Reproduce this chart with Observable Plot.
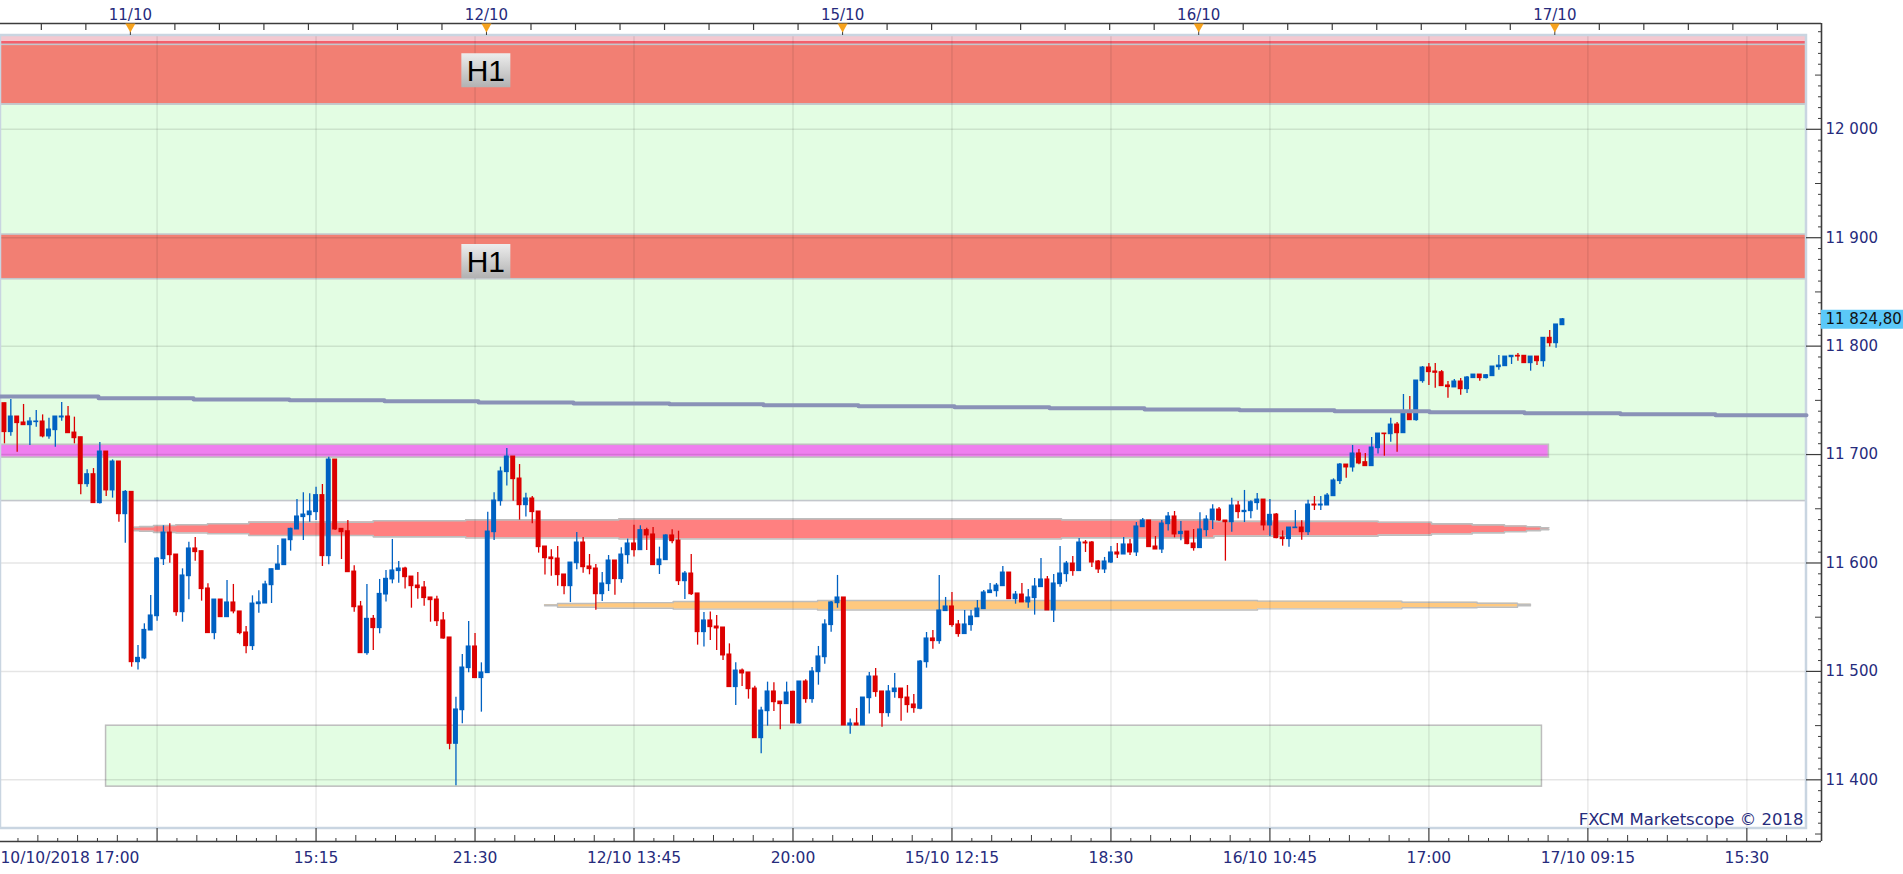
<!DOCTYPE html>
<html>
<head>
<meta charset="utf-8">
<script src="https://cdn.jsdelivr.net/npm/d3@7"></script>
<script src="https://cdn.jsdelivr.net/npm/@observablehq/plot@0.6"></script>
<style>
  html, body { margin: 0; padding: 0; background: #ffffff; overflow: hidden; }
  #chart svg { display: block; }
</style>
</head>
<body>
<div id="chart"></div>
<script>
// ---------- DATA ----------
// 15-minute candles, numbered by position on the axis (gaps closed)
const candleIndex = d3.range(1, 247);

const open = [
11747.4,11720.7,11735.1,11729.6,11727.1,11729.9,11730.5,11716.7,11722.5,11734.2,
11735.1,11720.3,11716.0,11672.7,11681.9,11655.2,11702.8,11666.9,11693.6,11645.0,
11665.6,11508.5,11511.9,11537.7,11550.9,11603.5,11628.1,11607.8,11554.6,11587.8,
11613.4,11610.9,11576.5,11535.3,11566.3,11550.0,11563.6,11555.3,11535.9,11523.3,
11562.0,11562.6,11579.5,11593.7,11598.0,11621.0,11630.9,11642.3,11644.1,11646.9,
11662.6,11606.3,11695.4,11631.5,11629.3,11592.1,11559.9,11516.8,11548.5,11539.9,
11570.9,11584.8,11592.5,11594.9,11587.5,11579.2,11577.4,11568.2,11566.3,11547.0,
11531.3,11433.2,11464.2,11503.0,11523.0,11493.8,11498.4,11628.4,11657.0,11683.8,
11698.2,11677.9,11653.3,11659.5,11647.5,11615.2,11605.1,11604.1,11589.4,11578.6,
11599.8,11618.9,11596.8,11594.9,11571.2,11580.5,11602.3,11585.1,11607.2,11618.0,
11611.8,11630.3,11626.3,11598.0,11602.6,11625.4,11620.7,11583.2,11590.3,11571.9,
11536.2,11547.0,11541.4,11540.5,11515.6,11485.5,11500.8,11499.0,11484.2,11438.4,
11463.3,11481.5,11472.2,11469.8,11481.2,11452.0,11490.7,11474.4,11499.3,11513.1,
11542.7,11562.9,11568.2,11450.1,11452.0,11450.1,11475.3,11495.3,11481.5,11461.5,
11480.9,11484.2,11475.9,11469.5,11465.5,11508.5,11530.4,11527.9,11555.6,11559.9,
11543.3,11534.4,11542.7,11550.0,11557.4,11572.2,11574.0,11578.6,11591.2,11566.6,
11570.9,11563.6,11567.6,11577.7,11584.8,11556.2,11580.5,11589.7,11599.5,11592.5,
11618.9,11618.9,11601.4,11594.0,11600.4,11609.7,11607.8,11617.1,11609.7,11633.0,
11639.2,11615.2,11612.4,11635.8,11642.9,11626.6,11629.0,11618.0,11613.7,11630.3,
11639.5,11649.3,11639.2,11637.6,11653.0,11646.9,11647.8,11655.2,11658.5,11634.6,
11644.7,11623.5,11622.0,11632.1,11632.7,11628.4,11653.9,11653.0,11653.0,11661.6,
11675.5,11690.8,11688.1,11701.0,11693.0,11689.3,11705.9,11719.4,11718.8,11727.7,
11719.7,11738.5,11731.7,11767.7,11780.3,11776.6,11776.0,11763.7,11761.9,11767.4,
11760.3,11770.5,11773.8,11770.5,11772.3,11780.6,11781.5,11789.8,11791.1,11791.1,
11784.3,11790.4,11786.1,11807.7,11802.7,11819.3
];
const high = [
11747.4,11750.8,11735.1,11746.2,11733.9,11740.6,11736.6,11733.6,11735.1,11748.0,
11744.3,11734.5,11716.0,11685.9,11687.1,11711.1,11702.8,11695.1,11693.6,11666.9,
11665.6,11523.9,11543.9,11570.0,11605.1,11634.3,11636.1,11607.8,11594.6,11619.2,
11623.5,11610.9,11580.8,11566.3,11566.3,11583.8,11580.2,11555.3,11541.4,11569.7,
11574.3,11583.2,11594.3,11616.1,11621.7,11632.1,11658.6,11664.7,11663.8,11669.9,
11672.4,11697.6,11695.4,11631.5,11639.2,11597.4,11564.5,11580.2,11551.6,11584.8,
11593.1,11621.7,11601.4,11596.1,11587.5,11591.2,11582.9,11568.2,11569.4,11554.3,
11531.3,11476.2,11515.6,11546.0,11535.0,11507.9,11646.9,11664.7,11688.4,11705.6,
11698.2,11690.8,11664.4,11661.3,11647.5,11615.2,11612.1,11615.2,11589.4,11600.4,
11628.1,11623.5,11607.8,11598.6,11591.2,11606.9,11602.3,11614.0,11622.0,11634.9,
11634.3,11632.1,11632.7,11614.6,11626.0,11630.6,11629.3,11592.1,11607.8,11571.9,
11554.3,11554.9,11551.6,11540.5,11525.4,11507.9,11502.1,11499.0,11486.4,11467.0,
11490.1,11489.5,11472.2,11490.1,11481.8,11490.7,11492.2,11503.6,11523.0,11547.6,
11564.5,11588.5,11568.2,11456.0,11465.8,11475.9,11499.0,11502.7,11481.5,11487.0,
11498.1,11484.2,11487.0,11478.7,11510.1,11535.9,11537.7,11588.5,11568.2,11572.8,
11547.0,11556.2,11556.2,11565.4,11574.6,11581.1,11581.1,11596.8,11591.2,11573.7,
11581.1,11575.5,11585.7,11604.1,11587.5,11589.4,11615.2,11601.4,11606.0,11622.6,
11620.7,11619.8,11602.3,11605.1,11615.2,11618.0,11623.5,11621.7,11637.3,11641.0,
11639.2,11624.4,11639.2,11646.6,11647.5,11638.3,11629.0,11630.9,11646.3,11643.5,
11653.6,11651.2,11639.2,11659.8,11656.7,11666.9,11657.3,11664.1,11658.5,11658.5,
11645.6,11629.6,11632.7,11648.4,11638.9,11657.9,11661.3,11661.3,11664.1,11677.6,
11691.8,11690.8,11708.4,11704.7,11701.0,11715.7,11719.4,11719.4,11733.6,11729.6,
11755.4,11753.6,11768.3,11781.2,11784.0,11784.0,11777.5,11767.4,11769.2,11770.2,
11772.0,11773.8,11773.8,11773.8,11781.2,11791.4,11790.4,11791.1,11793.2,11791.1,
11790.4,11790.4,11807.7,11814.4,11820.0,11825.5
];
const low = [
11709.9,11717.0,11702.2,11727.1,11708.4,11725.3,11715.4,11714.2,11706.8,11730.8,
11719.7,11709.9,11662.9,11669.9,11655.2,11654.3,11661.3,11659.8,11637.6,11618.3,
11503.9,11501.4,11510.7,11537.7,11546.3,11597.7,11599.8,11550.9,11545.4,11566.0,
11601.7,11564.8,11535.3,11529.1,11550.0,11550.0,11553.1,11533.7,11516.2,11519.3,
11553.7,11562.6,11562.6,11593.7,11597.7,11610.9,11630.9,11620.7,11637.6,11639.2,
11596.8,11598.3,11630.0,11603.2,11591.5,11554.6,11516.8,11515.0,11519.3,11534.7,
11563.9,11580.8,11581.4,11575.9,11558.3,11566.6,11560.2,11545.4,11541.4,11529.7,
11427.7,11394.5,11451.6,11498.7,11493.8,11462.4,11498.4,11620.7,11652.4,11670.9,
11657.0,11639.5,11642.3,11636.1,11609.1,11588.8,11587.8,11578.6,11570.6,11563.5,
11593.7,11590.6,11589.1,11556.5,11564.5,11573.7,11570.3,11581.4,11598.9,11605.4,
11611.8,11611.5,11598.0,11589.4,11602.6,11617.7,11579.2,11566.3,11570.0,11524.2,
11522.4,11528.5,11519.3,11510.1,11485.5,11468.6,11486.1,11474.4,11438.4,11424.0,
11449.5,11463.0,11446.1,11469.8,11452.0,11451.3,11470.7,11470.7,11487.3,11506.7,
11536.2,11558.3,11450.1,11442.1,11450.1,11450.1,11460.6,11476.2,11448.6,11457.8,
11475.3,11454.1,11461.5,11461.5,11464.6,11503.0,11520.5,11525.1,11555.6,11540.8,
11531.6,11534.4,11537.1,11550.0,11557.4,11572.2,11568.5,11578.6,11566.6,11562.0,
11563.6,11558.3,11551.9,11577.7,11556.2,11545.1,11577.7,11582.3,11587.8,11592.5,
11609.7,11595.8,11590.3,11590.3,11599.5,11604.1,11607.8,11606.9,11606.0,11633.0,
11614.6,11612.4,11608.8,11629.4,11623.2,11620.4,11616.7,11610.9,11613.7,11624.1,
11630.9,11638.3,11601.7,11628.4,11640.7,11637.3,11640.7,11648.7,11629.6,11624.4,
11622.3,11615.5,11614.6,11632.1,11621.0,11625.3,11648.4,11648.4,11653.0,11661.6,
11672.4,11678.2,11683.8,11690.5,11689.3,11689.3,11700.4,11698.5,11711.4,11702.2,
11719.7,11731.7,11730.8,11765.8,11763.7,11761.2,11763.1,11752.0,11761.9,11754.8,
11756.3,11770.5,11767.7,11769.8,11772.3,11777.8,11781.5,11783.1,11786.1,11784.3,
11776.9,11782.1,11780.6,11799.1,11798.1,11819.3
];
const close = [
11720.7,11735.1,11729.0,11727.1,11730.5,11730.5,11716.7,11723.1,11735.1,11735.1,
11719.7,11715.1,11672.7,11681.9,11655.2,11702.8,11666.9,11693.6,11645.0,11665.6,
11508.5,11512.5,11538.3,11551.6,11604.1,11628.1,11607.2,11554.6,11588.5,11613.4,
11610.0,11575.9,11535.3,11566.3,11550.0,11563.6,11555.3,11535.3,11523.3,11562.6,
11563.6,11580.2,11594.3,11598.6,11621.7,11631.5,11642.9,11644.7,11647.5,11662.6,
11606.3,11695.4,11630.9,11628.4,11591.5,11559.2,11516.8,11548.5,11539.9,11571.5,
11585.4,11593.1,11594.9,11586.9,11578.6,11576.8,11567.6,11565.7,11546.3,11530.3,
11433.2,11464.9,11503.6,11523.0,11493.8,11499.0,11629.0,11657.6,11684.4,11698.2,
11677.3,11653.3,11659.5,11646.9,11614.6,11604.4,11603.5,11588.8,11578.6,11600.4,
11618.9,11596.1,11594.3,11571.2,11581.1,11602.3,11585.1,11607.8,11618.0,11611.8,
11630.3,11625.4,11598.0,11603.2,11625.4,11620.1,11583.2,11590.3,11571.2,11536.2,
11547.0,11540.8,11539.6,11514.7,11485.5,11500.8,11498.1,11483.6,11438.4,11463.9,
11481.5,11471.6,11469.8,11480.5,11452.0,11490.7,11474.4,11499.9,11513.8,11543.3,
11563.6,11568.2,11450.1,11452.0,11450.1,11475.9,11495.3,11480.9,11461.5,11481.5,
11484.2,11475.3,11468.9,11466.1,11509.1,11530.4,11527.9,11556.2,11559.9,11542.7,
11534.4,11543.3,11550.6,11558.0,11572.8,11574.6,11579.2,11591.2,11566.6,11570.9,
11563.6,11568.2,11578.3,11584.8,11556.2,11581.1,11590.3,11599.5,11592.5,11618.9,
11618.0,11600.4,11594.0,11601.4,11609.7,11607.8,11617.1,11609.7,11633.7,11639.2,
11614.6,11612.4,11636.4,11642.9,11626.3,11628.7,11617.4,11613.7,11630.9,11640.1,
11649.3,11639.2,11637.6,11653.0,11646.9,11648.1,11656.1,11658.5,11634.6,11644.4,
11622.9,11622.0,11632.7,11632.7,11628.4,11653.9,11653.0,11653.9,11662.2,11676.1,
11690.8,11688.1,11701.0,11691.8,11689.3,11706.5,11719.4,11718.8,11727.7,11719.7,
11738.5,11731.7,11768.3,11780.3,11776.0,11775.4,11763.1,11762.2,11767.4,11760.3,
11771.1,11773.8,11770.5,11773.2,11781.2,11782.1,11790.4,11791.1,11790.4,11784.3,
11790.4,11786.1,11807.7,11802.7,11820.0,11824.8
];

// stepped moving average (segment starts, last = end of the visible window)
const maStart = [0.38,15.79,30.73,45.82,60.76,75.55,90.49,105.58,120.36,135.30,150.40,165.34,180.28,195.22,210.16,225.10,240.04,255.13,270.07,284.38];
const maValue = [11753.6,11752.0,11750.8,11750.1,11749.2,11748.0,11747.1,11746.4,11745.5,11744.6,11743.7,11742.8,11741.6,11740.9,11740.0,11739.1,11738.1,11737.2,11736.3,11736.3];

// horizontal zones (price ranges)
const zoneLow  = [11657.1, 12022.9, 12077.9, 12081.3, 11861.7];
const zoneHigh = [12022.9, 12077.9, 12081.3, 12086.5, 11902.9];
const zoneKind = ["green", "red", "redEdge", "redFade", "red"];

// "H1" labels
const h1Index = [76.7, 76.7];
const h1Value = [12054.5, 11878.6];
const h1Text  = ["H1", "H1"];

// magenta level band
const magentaFrom = 0.38, magentaTo = 243.87, magentaLow = 11697.2, magentaHigh = 11709.0;
// green box at the bottom
const boxFrom = 16.98, boxTo = 242.78, boxLow = 11393.7, boxHigh = 11449.9;

// red profile band (segment starts; last = end)
const redBandX  = [21.37,22.24,24.44,27.96,32.93,39.42,59.00,73.53,97.63,167.22,191.21,217.03,225.41,231.81,236.89,240.35,242.55,243.87];
const redBandHi = [11632.9,11633.5,11634.5,11635.3,11636.2,11637.7,11639.0,11639.8,11640.7,11639.8,11638.4,11637.5,11636.1,11635.1,11634.1,11633.4,11632.4,11632.4];
const redBandLo = [11629.8,11629.3,11628.2,11627.6,11626.9,11625.4,11624.1,11623.0,11622.1,11623.2,11624.8,11625.7,11626.7,11627.8,11628.8,11629.8,11630.8,11630.8];

// orange profile band
const orangeX  = [85.93,87.97,94.10,106.17,128.86,198.05,220.76,232.59,238.94,240.99];
const orangeHi = [11561.4,11562.6,11563.4,11564.5,11565.4,11564.8,11563.8,11562.9,11562.0,11562.0];
const orangeLo = [11560.5,11559.2,11558.3,11557.4,11556.6,11557.7,11558.7,11559.2,11560.5,11560.5];

// axes
const priceTicks = [11400, 11500, 11600, 11700, 11800, 11900, 12000];
const gridIndex = [25, 50, 75, 100, 125, 150, 175, 200, 225, 250, 275];
const timeTickIndex = [0, 50, 75, 100, 125, 150, 175, 200, 225, 250, 275];
const timeTickLabels = ["10/10/2018 17:00", "15:15", "21:30", "12/10 13:45", "20:00", "15/10 12:15", "18:30", "16/10 10:45", "17:00", "17/10 09:15", "15:30"];
const dayIndex = [20.8, 76.8, 132.8, 188.8, 244.8];
const dayLabels = ["11/10", "12/10", "15/10", "16/10", "17/10"];
const copyright = "FXCM Marketscope © 2018";

// visible window (index / price at the edges of the chart box and axes)
const xAxisLeft = 0.3774, xInnerRight = 284.38, xAxisRight = 286.74;
const yAxisBottom = 11343.11, yInnerBottom = 11355.1, yInnerTop = 12086.5, yAxisTop = 12097.58;

// ---------- STYLE ----------
const BLUE = "#0061c2", RED = "#dc0000";
const NAVY = "#262b7c";
const AXIS = "#3c3c3c";
const zoneFill = {green: "#e3fde3", red: "#f27f73", redEdge: "#f2606c", redFade: "#f3c8d0"};
const FONT = "DejaVu Sans";

const nf = d3.formatLocale({decimal: ",", thousands: " ", grouping: [3], currency: ["", ""]});
const fmtTick = nf.format(",.0f");
const fmtPrice = nf.format(",.2f");

// ---------- derived tables ----------
const candles = candleIndex.map((i, k) => ({i, o: open[k], h: high[k], l: low[k], c: close[k]}));
const colorOf = d => d.c >= d.o ? BLUE : RED;
const zones = zoneLow.map((lo, k) => ({lo, hi: zoneHigh[k], kind: zoneKind[k]}));
const ma = maStart.map((x, k) => ({x, v: maValue[k]}));
const redBand = redBandX.map((x, k) => ({x, hi: redBandHi[k], lo: redBandLo[k]}));
const orangeBand = orangeX.map((x, k) => ({x, hi: orangeHi[k], lo: orangeLo[k]}));
const h1 = h1Index.map((x, k) => ({x, v: h1Value[k], t: h1Text[k]}));
const timeTicks = timeTickIndex.map((x, k) => ({x, t: timeTickLabels[k]}));
const days = dayIndex.map((x, k) => ({x, t: dayLabels[k]}));
const lastClose = close[close.length - 1];

const topTicks = d3.range(6.8, xAxisRight, 7);
const botMajor = [0].concat(gridIndex);
const botMid = d3.range(6.25, xAxisRight, 6.25).filter(x => Math.abs(x / 25 - Math.round(x / 25)) > 1e-6);
const botMinor = d3.range(3.125, xAxisRight, 6.25);
const rMid = d3.range(11350, 12091, 50).filter(v => v % 100 !== 0);
const rMinor = d3.range(11350, 12091, 10).filter(v => v % 50 !== 0);

const boxSymbol = {draw(ctx) { ctx.moveTo(-24.5, -17); ctx.lineTo(24.5, -17); ctx.lineTo(24.5, 17); ctx.lineTo(-24.5, 17); ctx.closePath(); }};
const triDown = {draw(ctx) { ctx.moveTo(-5, -4.5); ctx.lineTo(5, -4.5); ctx.lineTo(0, 4.5); ctx.closePath(); }};

const defs = () => {
  const d = d3.create("svg:defs");
  const g = d.append("linearGradient").attr("id", "h1grad").attr("x1", 0).attr("y1", 0).attr("x2", 0).attr("y2", 1);
  g.append("stop").attr("offset", "0%").attr("stop-color", "#ededed");
  g.append("stop").attr("offset", "100%").attr("stop-color", "#b2b2b2");
  return d.node();
};

const chart = Plot.plot({
  width: 1903, height: 874,
  marginLeft: 0, marginRight: 82, marginTop: 23, marginBottom: 33,
  x: {type: "linear", domain: [xAxisLeft, xAxisRight], axis: null},
  y: {type: "linear", domain: [yAxisBottom, yAxisTop], axis: null},
  color: {type: "identity"},
  style: {fontFamily: FONT, fontSize: "15px", background: "#fff", overflow: "visible"},
  marks: [
    defs,
    // zones
    Plot.rect(zones, {x1: xAxisLeft, x2: xInnerRight, y1: "lo", y2: "hi", fill: d => zoneFill[d.kind]}),
    Plot.rect(zones.filter(d => d.kind === "green" || d.kind === "red"), {x1: xAxisLeft, x2: xInnerRight, y1: "lo", y2: "hi", fill: "none", stroke: "#c3c7cc", strokeWidth: 1.6}),
    // green box
    Plot.rect([0], {x1: boxFrom, x2: boxTo, y1: boxLow, y2: boxHigh, fill: "#e3fde3", stroke: "#bdbdbd", strokeWidth: 1.5}),
    // magenta band
    Plot.rect([0], {x1: magentaFrom, x2: magentaTo, y1: magentaLow, y2: magentaHigh, fill: "#ef7fef", stroke: "#c0c0c0", strokeWidth: 1.6}),
    // red profile band
    Plot.areaY(redBand, {x: "x", y1: "lo", y2: "hi", curve: "step-after", fill: "#ff8080"}),
    Plot.lineY(redBand, {x: "x", y: "hi", curve: "step-after", stroke: "#bdbdbd", strokeWidth: 1.6}),
    Plot.lineY(redBand, {x: "x", y: "lo", curve: "step-after", stroke: "#bdbdbd", strokeWidth: 1.6}),
    // orange profile band
    Plot.areaY(orangeBand, {x: "x", y1: "lo", y2: "hi", curve: "step-after", fill: "#ffc97f"}),
    Plot.lineY(orangeBand, {x: "x", y: "hi", curve: "step-after", stroke: "#bdbdbd", strokeWidth: 1.4}),
    Plot.lineY(orangeBand, {x: "x", y: "lo", curve: "step-after", stroke: "#bdbdbd", strokeWidth: 1.4}),
    // grid
    Plot.ruleX(gridIndex, {x: d => d, y1: yInnerBottom, y2: yInnerTop, stroke: "#000", strokeOpacity: 0.085, strokeWidth: 1.5}),
    Plot.ruleY(priceTicks, {y: d => d, x1: xAxisLeft, x2: xInnerRight, stroke: "#000", strokeOpacity: 0.1, strokeWidth: 1.5}),
    // chart box border
    Plot.rect([0], {x1: xAxisLeft, x2: xInnerRight, y1: yInnerBottom, y2: yInnerTop, fill: "none", stroke: "#c9d5e1", strokeWidth: 2.5}),
    // H1 labels
    Plot.dot(h1, {x: "x", y: "v", symbol: boxSymbol, r: 5, fill: "url(#h1grad)", stroke: "none"}),
    Plot.text(h1, {x: "x", y: "v", text: "t", fontSize: 30, fontFamily: "Liberation Sans", fill: "#000", dy: 1}),
    // candles
    Plot.ruleX(candles, {x: "i", y1: "l", y2: "h", stroke: colorOf, strokeWidth: 1.3}),
    Plot.rect(candles, {x1: d => d.i - 0.39, x2: d => d.i + 0.39, y1: "o", y2: "c", fill: colorOf, insetTop: -0.5, insetBottom: -0.5}),
    // moving average
    Plot.line(ma, {x: "x", y: "v", curve: "step-after", stroke: "#8a92b7", strokeWidth: 4}),
    // axis lines
    Plot.ruleY([yAxisTop], {y: d => d, stroke: AXIS, strokeWidth: 1.6}),
    Plot.ruleY([yAxisBottom], {y: d => d, stroke: AXIS, strokeWidth: 1.6}),
    Plot.ruleX([xAxisRight], {x: d => d, stroke: AXIS, strokeWidth: 1.6}),
    // top axis
    Plot.ruleX(topTicks, {x: d => d, insetBottom: 811, stroke: AXIS, strokeWidth: 1.2}),
    Plot.ruleX(dayIndex, {x: d => d, insetTop: 8, insetBottom: 806, stroke: AXIS, strokeWidth: 1}),
    Plot.dot(dayIndex, {x: d => d, frameAnchor: "top", dy: 4.5, symbol: triDown, r: 4, fill: "#f6a21d", stroke: "none"}),
    Plot.text(days, {x: "x", text: "t", frameAnchor: "top", dy: -14, fill: NAVY, fontSize: 15}),
    // bottom axis
    Plot.ruleX(botMajor, {x: d => d, insetTop: 805, stroke: AXIS, strokeWidth: 1.2}),
    Plot.ruleX(botMid, {x: d => d, insetTop: 812, stroke: AXIS, strokeWidth: 1}),
    Plot.ruleX(botMinor, {x: d => d, insetTop: 815, stroke: AXIS, strokeWidth: 1}),
    Plot.text(timeTicks.slice(0, 1), {x: xAxisLeft, text: "t", frameAnchor: "bottom", dy: 21, textAnchor: "start", fill: NAVY, fontSize: 15.5}),
    Plot.text(timeTicks.slice(1), {x: "x", text: "t", frameAnchor: "bottom", dy: 21, fill: NAVY, fontSize: 15.5}),
    // right axis
    Plot.ruleY(priceTicks, {y: d => d, insetLeft: 1806, stroke: AXIS, strokeWidth: 1.2}),
    Plot.ruleY(rMid, {y: d => d, insetLeft: 1815, stroke: AXIS, strokeWidth: 1}),
    Plot.ruleY(rMinor, {y: d => d, insetLeft: 1818, stroke: AXIS, strokeWidth: 1}),
    Plot.text(priceTicks, {y: d => d, text: d => fmtTick(d), frameAnchor: "right", textAnchor: "start", dx: 4, fill: NAVY, fontSize: 15}),
    // last price tag
    Plot.ruleY([lastClose], {y: d => d, insetLeft: 1821, insetRight: -82, stroke: "#5bc8f8", strokeWidth: 19}),
    Plot.text([lastClose], {y: d => d, text: d => fmtPrice(d), frameAnchor: "right", textAnchor: "start", dx: 4, fill: "#111", fontSize: 15}),
    // copyright
    Plot.text([copyright], {x: xInnerRight, y: yInnerBottom, text: d => d, textAnchor: "end", dx: -3, dy: -9, fill: NAVY, fontSize: 16.5})
  ]
});
document.getElementById("chart").appendChild(chart);
</script>
</body>
</html>
